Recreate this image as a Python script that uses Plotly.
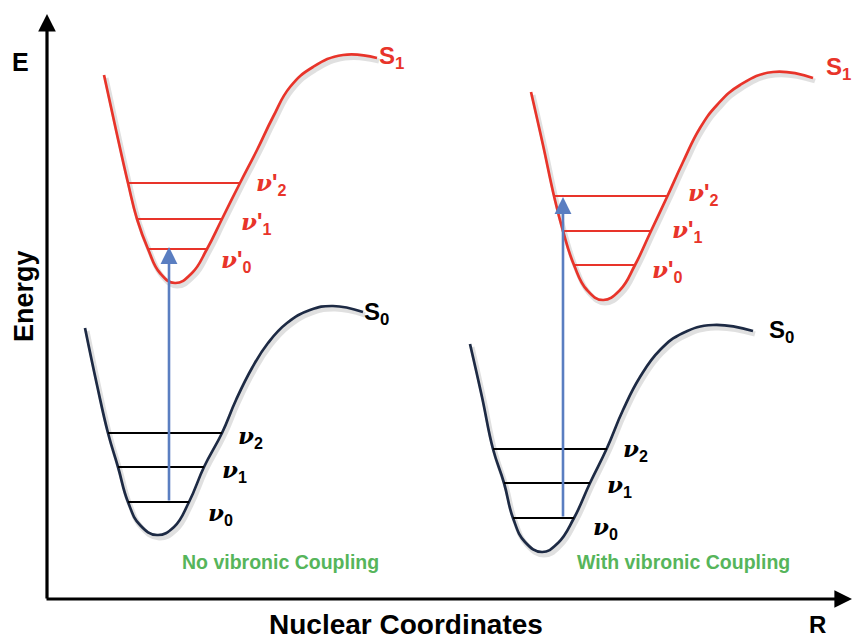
import plotly.graph_objects as go

# ---- Data (nuclear coordinate, energy) in diagram units (y grows downward in picture units) ----
# Left panel: no vibronic coupling
s0_left_x = [85, 97, 108, 118, 128, 140, 157, 174, 189, 204, 222, 236, 252, 268, 287, 310, 333, 363]
s0_left_y = [328, 385, 433, 467, 502, 525, 535, 527, 502, 467, 433, 400, 368, 343, 323, 310, 306, 312]
s1_left_x = [104, 116, 128, 137, 148, 160, 175, 192, 207, 222, 240, 257, 273, 290, 313, 343, 377]
s1_left_y = [75, 130, 183, 219, 249, 273, 283, 273, 249, 219, 183, 150, 117, 87, 67, 55, 58]
# Right panel: with vibronic coupling
s1_right_x = [531, 543, 554, 563, 574, 587, 603, 620, 635, 651, 667, 683, 700, 717, 740, 773, 813]
s1_right_y = [92, 145, 196, 231, 265, 290, 300, 290, 265, 231, 197, 162, 128, 105, 85, 72, 78]
s0_right_x = [470, 482, 493, 504, 513, 525, 542, 558, 574, 590, 607, 623, 640, 660, 683, 713, 753]
s0_right_y = [344, 397, 449, 483, 518, 542, 552, 543, 518, 483, 448, 410, 377, 350, 333, 325, 331]

# Vibrational levels: (energy, x_start, x_end)
lev_s0_left = [(433, 108, 222), (467, 118, 204), (502, 128, 189)]
lev_s1_left = [(183, 128, 239), (219, 137, 222), (249, 148, 207)]
lev_s1_right = [(196, 554, 668), (231, 563, 651), (265, 574, 635)]
lev_s0_right = [(449, 493, 607), (483, 504, 590), (518, 513, 574)]

# Transitions: (x, from_energy, to_energy)
transitions = [(169, 502, 247), (563, 518, 197)]

# Level labels: (subscript, x_left, y_center)
level_labels_s0 = [("2", 236, 437), ("1", 220, 471), ("0", 206, 514),
                   ("2", 621, 450), ("1", 605, 486), ("0", 591, 528)]
level_labels_s1 = [("2", 254, 184), ("1", 239, 223), ("0", 219, 261),
                   ("2", 686, 194), ("1", 670, 231), ("0", 650, 271)]

RED = "#E8342A"
NAVY = "#1D2A44"
BLUE = "#5A7EC1"
GREEN = "#56B55B"

fig = go.Figure()

curves = [(s0_left_x, s0_left_y, NAVY), (s1_left_x, s1_left_y, RED),
          (s1_right_x, s1_right_y, RED), (s0_right_x, s0_right_y, NAVY)]
# shadows
for xs, ys, c in curves:
    fig.add_trace(go.Scatter(x=[v + 2 for v in xs], y=[v + 3 for v in ys], mode="lines",
                             line=dict(color="rgba(0,0,0,0.12)", width=5, shape="spline", smoothing=1.3),
                             hoverinfo="skip", showlegend=False))
for xs, ys, c in curves:
    fig.add_trace(go.Scatter(x=xs, y=ys, mode="lines",
                             line=dict(color=c, width=2.7, shape="spline", smoothing=1.3),
                             hoverinfo="skip", showlegend=False))

for levs, c in [(lev_s0_left, "black"), (lev_s1_left, RED), (lev_s1_right, RED), (lev_s0_right, "black")]:
    for e, x0, x1 in levs:
        fig.add_trace(go.Scatter(x=[x0, x1], y=[e, e], mode="lines",
                                 line=dict(color=c, width=2.2), hoverinfo="skip", showlegend=False))

annotations = []
for x, e0, e1 in transitions:
    annotations.append(dict(x=x, y=e1, ax=x, ay=e0, xref="x", yref="y", axref="x", ayref="y",
                            showarrow=True, arrowhead=2, arrowsize=1.3, arrowwidth=2.6,
                            arrowcolor=BLUE, standoff=0, text=""))

# axes arrows
annotations.append(dict(x=47, y=14, ax=47, ay=600, xref="x", yref="y", axref="x", ayref="y",
                        showarrow=True, arrowhead=2, arrowsize=1.1, arrowwidth=3.2,
                        arrowcolor="black", standoff=0, text=""))
annotations.append(dict(x=852, y=599, ax=45, ay=599, xref="x", yref="y", axref="x", ayref="y",
                        showarrow=True, arrowhead=2, arrowsize=1.1, arrowwidth=3.2,
                        arrowcolor="black", standoff=0, text=""))


def nu(sub, prime):
    p = "'" if prime else ""
    return ("<b><i>ν</i></b><span style='font-family:Arial'><b>%s<sub>%s</sub></b></span>" % (p, sub))


for sub, x, y in level_labels_s0:
    annotations.append(dict(x=x, y=y, xref="x", yref="y", xanchor="left", yanchor="middle",
                            showarrow=False, text=nu(sub, False),
                            font=dict(family="DejaVu Serif", size=23, color="black")))
for sub, x, y in level_labels_s1:
    annotations.append(dict(x=x, y=y, xref="x", yref="y", xanchor="left", yanchor="middle",
                            showarrow=False, text=nu(sub, True),
                            font=dict(family="DejaVu Serif", size=23, color=RED)))

state_labels = [("S<sub>1</sub>", 377, 57, RED), ("S<sub>1</sub>", 824, 68, RED),
                ("S<sub>0</sub>", 362, 313, "black"), ("S<sub>0</sub>", 767, 331, "black")]
for t, x, y, c in state_labels:
    annotations.append(dict(x=x, y=y, xref="x", yref="y", xanchor="left", yanchor="middle",
                            showarrow=False, text="<b>%s</b>" % t,
                            font=dict(family="Arial", size=24, color=c)))

panel_titles = [("No vibronic Coupling", 280, 562), ("With vibronic Coupling", 683, 562)]
for t, x, y in panel_titles:
    annotations.append(dict(x=x, y=y, xref="x", yref="y", xanchor="center", yanchor="middle",
                            showarrow=False, text="<b>%s</b>" % t,
                            font=dict(family="Arial", size=19.5, color=GREEN)))

annotations.append(dict(x=20, y=62, xref="x", yref="y", showarrow=False, text="<b>E</b>",
                        font=dict(family="Arial", size=25, color="black")))
annotations.append(dict(x=24, y=296, xref="x", yref="y", showarrow=False, text="<b>Energy</b>",
                        textangle=-90, font=dict(family="Arial", size=27, color="black")))
annotations.append(dict(x=406, y=624, xref="x", yref="y", showarrow=False,
                        text="<b>Nuclear Coordinates</b>",
                        font=dict(family="Arial", size=28, color="black")))
annotations.append(dict(x=817, y=624, xref="x", yref="y", showarrow=False, text="<b>R</b>",
                        font=dict(family="Arial", size=24, color="black")))

fig.update_layout(
    width=852, height=639,
    margin=dict(l=0, r=0, t=0, b=0),
    paper_bgcolor="white", plot_bgcolor="white",
    xaxis=dict(range=[0, 852], visible=False, fixedrange=True),
    yaxis=dict(range=[639, 0], visible=False, fixedrange=True),
    annotations=annotations,
    showlegend=False,
)

fig.write_html("out.html")
